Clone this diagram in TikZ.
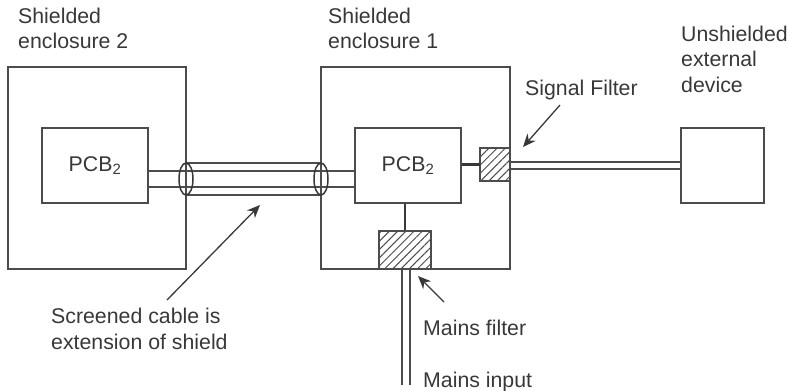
\documentclass[tikz,border=0pt]{standalone}
\usepackage{fontspec}
\setmainfont{Liberation Sans}
\usetikzlibrary{patterns.meta,arrows.meta,shapes.geometric}
\definecolor{ink}{gray}{0.3}
\definecolor{txt}{gray}{0.22}
\tikzset{
  every node/.style={font=\fontsize{21.3}{25.7}\selectfont, text=txt},
  box/.style={draw=ink, line width=1.4pt, inner sep=0pt, fill=white},
  hatchbox/.style={draw=ink, line width=1.2pt, inner sep=0pt, pattern color=ink, pattern={Lines[angle=45,distance=5.8pt,line width=1pt]}},
  wire/.style={draw=ink, line width=1.4pt},
  thick wire/.style={draw=txt, line width=2.2pt},
  shellend/.style={draw=txt, line width=1.5pt, ellipse, inner sep=0pt, minimum width=14pt, minimum height=32pt},
  pointer/.style={draw=txt, line width=1.3pt, -{Stealth[length=13pt,width=11pt]}},
  lbl/.style={align=left, anchor=north west, inner sep=0pt},
}
\begin{document}
\begin{tikzpicture}[x=1pt,y=-1pt]
\useasboundingbox (0,0) rectangle (788,391);
% enclosures
\node[box, minimum width=178pt, minimum height=202pt] (enc2) at (97,168) {};
\node[box, minimum width=189pt, minimum height=202pt] (enc1) at (415.5,168) {};
% coordinates
\coordinate (c1a) at (148,171); \coordinate (c1b) at (355,171);
\coordinate (c2a) at (148,187); \coordinate (c2b) at (355,187);
\coordinate (sa) at (186,163); \coordinate (sb) at (321,163);
\coordinate (sc) at (186,195); \coordinate (sd) at (321,195);
\coordinate (e1) at (510,162); \coordinate (e2) at (681,162);
\coordinate (e3) at (510,169); \coordinate (e4) at (681,169);
\coordinate (m1a) at (402,269); \coordinate (m1b) at (402,385);
\coordinate (m2a) at (410,269); \coordinate (m2b) at (410,385);
% screened cable
\draw[wire] (c1a) -- (c1b);
\draw[wire] (c2a) -- (c2b);
\draw[wire] (sa) -- (sb);
\draw[wire] (sc) -- (sd);
\node[shellend] (shL) at (186,179) {};
\node[shellend] (shR) at (321,179) {};
% PCBs
\node[box, minimum width=106pt, minimum height=75pt] (pcbL) at (95,165.5) {PCB\textsubscript{2}};
\node[box, minimum width=106pt, minimum height=75pt] (pcbR) at (408,165.5) {PCB\textsubscript{2}};
\node[box, minimum width=83pt, minimum height=75pt] (ext) at (722.5,165.5) {};
% filters
\node[hatchbox, minimum width=30pt, minimum height=33pt] (sf) at (495,164.5) {};
\node[hatchbox, minimum width=52pt, minimum height=38pt] (mf) at (405,250) {};
% wires
\draw[thick wire] (pcbR.east |- sf.west) -- (sf.west);
\draw[thick wire] (pcbR.south -| mf.north) -- (mf.north);
\draw[wire] (e1) -- (e2);
\draw[wire] (e3) -- (e4);
\draw[wire] (m1a) -- (m1b);
\draw[wire] (m2a) -- (m2b);
% labels
\node[lbl] (t2) at (18,7.5) {Shielded\\enclosure 2};
\node[lbl] (t1) at (328,7.5) {Shielded\\enclosure 1};
\node[lbl] (t3) at (681,25.5) {Unshielded\\external\\device};
\node[lbl] (t4) at (525,79.5) {Signal Filter};
\node[lbl] (t5) at (51,308) {Screened cable is\\extension of shield};
\node[lbl] (t6) at (423,319.5) {Mains filter};
\node[lbl] (t7) at (423,371.5) {Mains input};
% pointers
\coordinate (p1s) at (560,105); \coordinate (p1e) at (523,147);
\coordinate (p2s) at (167,300); \coordinate (p2e) at (260,205);
\coordinate (p3s) at (444,302); \coordinate (p3e) at (418,276);
\draw[pointer] (p1s) -- (p1e);
\draw[pointer] (p2s) -- (p2e);
\draw[pointer] (p3s) -- (p3e);
\end{tikzpicture}
\end{document}
